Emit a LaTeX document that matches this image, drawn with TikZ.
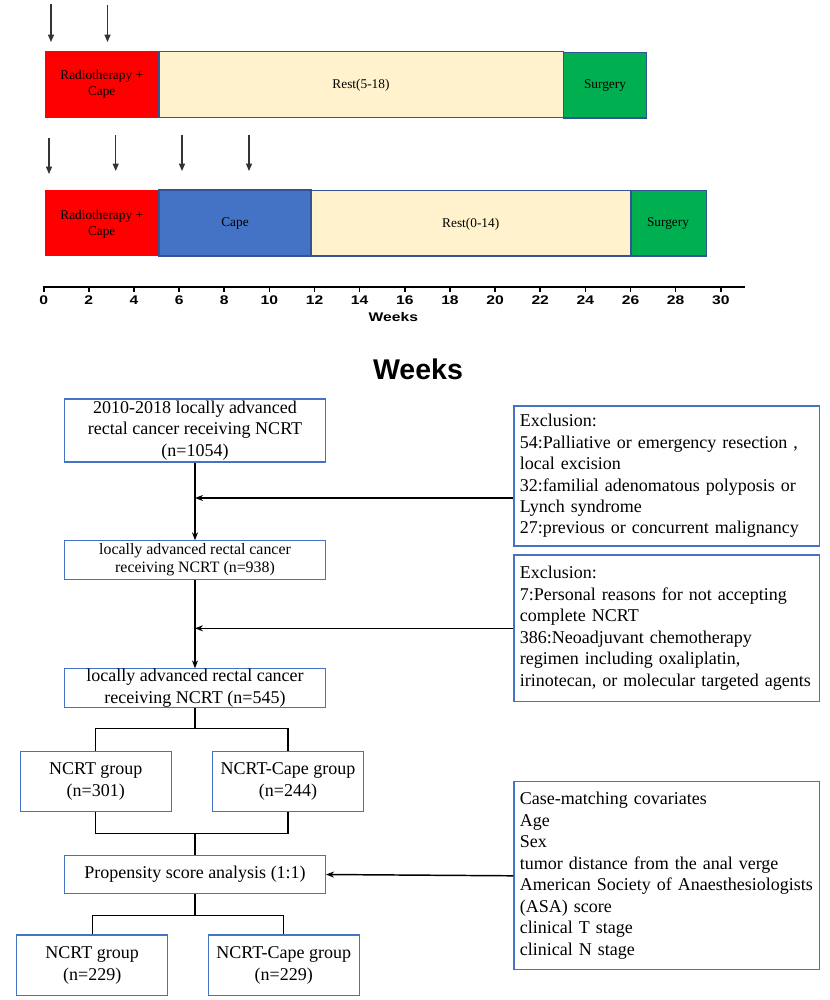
\documentclass[tikz,border=0pt]{standalone}
\usepackage{fontspec}
\setmainfont{Liberation Serif}
\setsansfont{Liberation Sans}
\usepackage{tikz}
\usetikzlibrary{arrows.meta,positioning}
\definecolor{radred}{RGB}{255,0,0}
\definecolor{restcream}{RGB}{255,242,204}
\definecolor{capeblue}{RGB}{68,114,196}
\definecolor{surggreen}{RGB}{0,176,80}
\definecolor{edgeblue}{RGB}{47,85,151}
\definecolor{boxblue}{RGB}{68,114,196}
\tikzset{
  bar/.style={draw=edgeblue, line width=0.8pt},
  phasetext/.style={align=center, inner sep=0pt, font=\fontsize{10}{12.3}\selectfont},
  dose/.style={-{Triangle[width=4.5pt,length=5.5pt]}, draw=black!80, line width=0.8pt},
  ticklab/.style={font=\sffamily\bfseries\fontsize{9.4}{11}\selectfont, xscale=1.25, inner sep=0pt},
  flowbox/.style={draw=boxblue, line width=0.8pt, align=center, inner sep=0pt,
    minimum width=195.75pt, font=\fontsize{13.5}{16.3}\selectfont},
  groupbox/.style={flowbox, minimum width=113.4pt, minimum height=45pt},
  exbox/.style={draw=boxblue, line width=0.8pt, align=left, text width=220pt,
    inner xsep=4.4pt, inner ysep=0pt, font=\fontsize{13.5}{16.1}\selectfont},
  link/.style={line width=0.8pt},
  feed/.style={-{Stealth[length=6pt,width=4.5pt]}, line width=1.1pt}
}

\begin{document}
\begin{tikzpicture}[x=0.75pt,y=-0.75pt]
\useasboundingbox (0,0) rectangle (829,1000);
% first schedule
\foreach \x/\ya in {51/4,107.5/5}
  \draw[dose] (\x,\ya) -- (\x,42);
\fill[radred] (44.5,51) rectangle (159,117.5);
\draw[bar,fill=restcream] (159,51.5) rectangle (563.5,117.5);
\draw[bar,fill=surggreen] (563.5,52.5) rectangle (646.5,118);
\node[phasetext] (rt1) at (101.7,84.5) {Radiotherapy +\\Cape};
\node[phasetext] (rest1) at (361,85) {Rest(5-18)};
\node[phasetext] (surg1) at (605,85.5) {Surgery};
% second schedule
\foreach \x/\ya in {49/138,115.7/135,182/135,249/135}
  \draw[dose] (\x,\ya) -- (\x,\ya+36);
\fill[radred] (44.5,190) rectangle (159,256);
\draw[bar,fill=capeblue] (159,190) rectangle (311,256);
\draw[bar,fill=restcream] (311,190.5) rectangle (631,256);
\draw[bar,fill=surggreen] (631,190.5) rectangle (706.5,256);
\node[phasetext] (rt2) at (101.7,224) {Radiotherapy +\\Cape};
\node[phasetext] (cape2) at (235,224) {Cape};
\node[phasetext] (rest2) at (470.7,224) {Rest(0-14)};
\node[phasetext] (surg2) at (668,224) {Surgery};
% week axis
\draw[line width=1.6pt] (43,286.7) -- (745,286.7);
\foreach \w in {0,2,...,30} {
  \draw[line width=1.2pt] ({43.7+22.57*\w},286.7) -- ++(0,5);
  \node[ticklab] at ({43.7+22.57*\w},300) {\w};
}
\node[ticklab] (axlab) at (393.4,317) {Weeks};
\node[font=\sffamily\bfseries\fontsize{21.4}{24}\selectfont] (title) at (418,369) {Weeks};

% flow chart
\node[flowbox, minimum height=47.25pt] (all) at (195,430.5)
  {2010-2018 locally advanced\\rectal cancer receiving NCRT\\(n=1054)};
\node[flowbox, minimum height=28.7pt, font=\fontsize{11.9}{13.5}\selectfont] (n938) at (195,560)
  {locally advanced rectal cancer\\receiving NCRT (n=938)};
\node[flowbox, minimum height=28.3pt] (n545) at (195,688)
  {locally advanced rectal cancer\\receiving NCRT (n=545)};
\node[groupbox] (g301) at (95.8,781.3) {NCRT group\\(n=301)};
\node[groupbox] (g244) at (288,781.3) {NCRT-Cape group\\(n=244)};
\node[flowbox, minimum height=28.2pt] (psa) at (195,874.5) {Propensity score analysis (1:1)};
\node[groupbox, minimum height=45.5pt] (m1) at (92.2,965.3) {NCRT group\\(n=229)};
\node[groupbox, minimum height=45.5pt] (m2) at (283.8,965.3) {NCRT-Cape group\\(n=229)};

\node[exbox, minimum height=105pt] (ex1) at (666.5,476)
  {Exclusion:\\54:Palliative or emergency resection ,\\local excision\\32:familial adenomatous polyposis or\\Lynch syndrome\\27:previous or concurrent malignancy};
\node[exbox, minimum height=110pt] (ex2) at (666.5,628.3)
  {Exclusion:\\7:Personal reasons for not accepting\\complete NCRT\\386:Neoadjuvant chemotherapy\\regimen including oxaliplatin,\\irinotecan, or molecular targeted agents};
\node[exbox, minimum height=141.2pt] (cov) at (666.5,875.8)
  {Case-matching covariates\\Age\\Sex\\tumor distance from the anal verge\\American Society of Anaesthesiologists\\(ASA) score\\clinical T stage\\clinical N stage};

\coordinate (j1) at (195,498);
\coordinate (split1) at (195,728.3);
\coordinate (merge1) at (195,833.3);
\coordinate (split2) at (195,915.7);

\draw[feed] (all.south) -- (n938.north);
\draw[feed] (ex1.west |- j1) -- (j1);
\draw[feed] (n938.south) -- (n545.north);
\draw[feed] (ex2.west) -- (ex2.west -| n938.south);
\draw[link] (n545.south) -- (split1);
\draw[link] (g301.north) |- (split1) -| (g244.north);
\draw[link] (g301.south) |- (merge1) -| (g244.south);
\draw[link] (merge1) -- (psa.north);
\draw[feed] (cov.west) -- (psa.east);
\draw[link] (psa.south) -- (split2);
\draw[link] (m1.north) |- (split2) -| (m2.north);
\end{tikzpicture}
\end{document}
